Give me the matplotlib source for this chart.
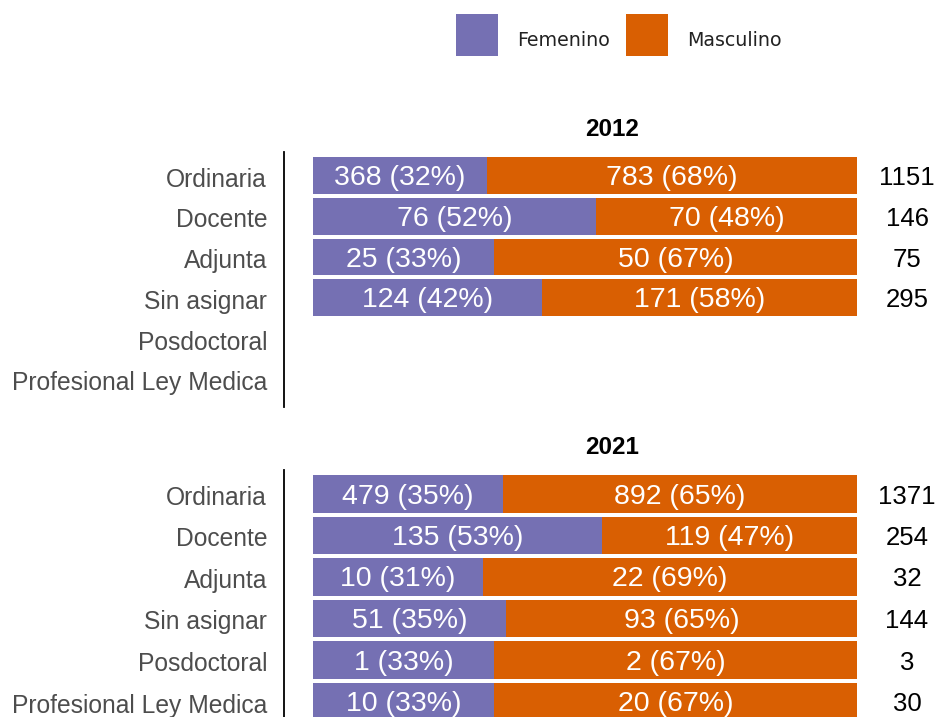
import numpy as np
import matplotlib
matplotlib.use("Agg")
import matplotlib.pyplot as plt
from matplotlib.patches import Rectangle
from matplotlib.transforms import ScaledTranslation, blended_transform_factory

categories = ["Ordinaria", "Docente", "Adjunta", "Sin asignar", "Posdoctoral", "Profesional Ley Medica"]
years = ["2012", "2021"]
fem_2012 = [368, 76, 25, 124, np.nan, np.nan]
masc_2012 = [783, 70, 50, 171, np.nan, np.nan]
fem_2021 = [479, 135, 10, 51, 1, 10]
masc_2021 = [892, 119, 22, 93, 2, 20]
series_names = ["Femenino", "Masculino"]
colors = ["#7570b3", "#d95f02"]

W, H = 940, 717
fig = plt.figure(figsize=(W / 100, H / 100), dpi=100)
plt.rcParams['font.family'] = ['Liberation Sans', 'DejaVu Sans']

def fx(px):
    return px / W

def fy(py):
    return 1 - py / H

# (year, fem, masc, axes top px, axes bottom px, row0 centre px, row pitch px, title y px)
panels = [
    (years[0], fem_2012, masc_2012, 152, 407, 175.7, 40.7, 130),
    (years[1], fem_2021, masc_2021, 470, 717, 494.0, 41.5, 448),
]

ax_left, ax_right = 284, 857
a = 0.0533
txt_off = ScaledTranslation(0, -2.5 / 100, fig.dpi_scale_trans)
lab_off = ScaledTranslation(-17 / 100, -4 / 100, fig.dpi_scale_trans)

for year, fem, masc, top, bot, c0, step, ty in panels:
    ax = fig.add_axes([fx(ax_left), fy(bot), fx(ax_right - ax_left), (bot - top) / H])
    fem = np.array(fem, dtype=float)
    masc = np.array(masc, dtype=float)
    tot = fem + masc
    pf = fem / tot
    pm = masc / tot
    y = np.arange(len(categories))
    ax.barh(y, pf, left=0, height=0.9, color=colors[0])
    ax.barh(y, pm, left=pf, height=0.9, color=colors[1])
    for i in range(len(categories)):
        if np.isnan(tot[i]):
            continue
        ax.text(pf[i] / 2, i, f"{int(fem[i])} ({round(pf[i]*100):.0f}%)", ha="center", va="center",
                color="white", fontsize=20.5, transform=ax.transData + txt_off)
        ax.text(pf[i] + pm[i] / 2, i, f"{int(masc[i])} ({round(pm[i]*100):.0f}%)", ha="center",
                va="center", color="white", fontsize=20.5, transform=ax.transData + txt_off)
        ax.text(1.092, i, f"{int(tot[i])}", ha="center", va="center", color="black",
                fontsize=18.5, clip_on=False, transform=ax.transData + txt_off)
    ax.set_xlim(-a, 1.0)
    ax.set_ylim(5 + (bot - (c0 + 5 * step)) / step, -(c0 - top) / step)
    ax.set_yticks([])
    ax.set_xticks([])
    blend = blended_transform_factory(ax.transAxes, ax.transData)
    for i, cat in enumerate(categories):
        ax.text(0, i, cat, ha="right", va="center", fontsize=17.7, color="#4d4d4d",
                clip_on=False, transform=blend + lab_off)
    for s in ["top", "right", "bottom"]:
        ax.spines[s].set_visible(False)
    ax.spines["left"].set_color("black")
    ax.spines["left"].set_linewidth(1.3)
    ax.patch.set_alpha(0)
    fig.text(fx(612), fy(ty), year, ha="center", va="center", fontsize=17.5, fontweight="bold")

# legend
for px, name, col in [(456, series_names[0], colors[0]), (626, series_names[1], colors[1])]:
    fig.add_artist(Rectangle((fx(px), fy(56)), 42 / W, 42 / H, transform=fig.transFigure,
                             facecolor=col, edgecolor="none"))
    fig.text(fx(px + 61), fy(46), name, ha="left", va="baseline", fontsize=13.7,
             family="DejaVu Sans", color="#222222")

fig.savefig("out.png", dpi=100)
